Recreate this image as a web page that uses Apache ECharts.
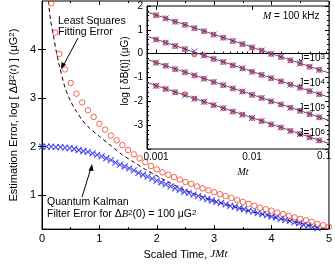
<!DOCTYPE html>
<html><head><meta charset="utf-8">
<script src="https://cdn.jsdelivr.net/npm/echarts@6/dist/echarts.min.js"></script>
<style>html,body{margin:0;padding:0;background:#fff}#c{width:335px;height:265px}</style>
</head><body><div id="c"></div>
<script>
// ---- main plot data ----
const lsX = [0.16,0.23,0.3,0.4,0.5,0.6,0.7,0.8,0.9,1.0,1.1,1.2,1.3,1.4,1.5,1.6,1.7,1.8,1.9,2.0,2.1,2.2,2.3,2.4,2.5,2.6,2.7,2.8,2.9,3.0,3.1,3.2,3.3,3.4,3.5,3.6,3.7,3.8,3.9,4.0,4.1,4.2,4.3,4.4,4.5,4.6,4.7,4.8,4.9,5.0];
const lsY = [4.95,4.35,3.91,3.59,3.31,3.09,2.91,2.75,2.61,2.47,2.35,2.23,2.13,2.03,1.93,1.84,1.76,1.68,1.60,1.53,1.47,1.42,1.37,1.32,1.27,1.23,1.18,1.14,1.10,1.06,1.02,0.98,0.94,0.90,0.86,0.82,0.78,0.74,0.71,0.68,0.64,0.61,0.57,0.54,0.51,0.48,0.45,0.41,0.38,0.35];
const qkfX = [0,0.08,0.16,0.24,0.32,0.40,0.48,0.56,0.64,0.72,0.80,0.88,0.96,1.04,1.12,1.20,1.28,1.36,1.44,1.52,1.60,1.68,1.76,1.84,1.92,2.00,2.08,2.16,2.24,2.32,2.40,2.48,2.56,2.64,2.72,2.80,2.88,2.96,3.04,3.12,3.20,3.28,3.36,3.44,3.52,3.60,3.68,3.76,3.84,3.92,4.00,4.08,4.16,4.24,4.32,4.40,4.48,4.56,4.64,4.72,4.80,4.88];
const qkfY = [2.00,2.00,2.00,1.99,1.99,1.98,1.97,1.95,1.93,1.91,1.89,1.86,1.83,1.80,1.76,1.72,1.67,1.63,1.59,1.55,1.51,1.46,1.42,1.38,1.34,1.30,1.26,1.22,1.18,1.14,1.11,1.07,1.04,1.01,0.98,0.95,0.92,0.89,0.86,0.84,0.81,0.78,0.76,0.73,0.71,0.68,0.66,0.63,0.61,0.59,0.56,0.54,0.51,0.49,0.47,0.44,0.42,0.39,0.37,0.34,0.32,0.29];
const trueX = [0.11,0.15,0.2,0.25,0.3,0.4,0.5,0.6,0.7,0.8,1.0,1.2,1.4,1.6,1.8,2.0,2.2,2.5,3.0,3.5,4.0,4.5,5.0];
const trueY = [5.0,4.6,4.28,3.95,3.68,3.22,2.93,2.72,2.55,2.41,2.21,2.02,1.83,1.68,1.53,1.40,1.27,1.10,0.88,0.71,0.56,0.42,0.28];
const mainXTicks = [0,1,2,3,4,5];
const mainYTicks = [1,2,3,4];

// ---- inset data ----
const insetXMin = 0.000805, insetXMax = 0.0634;
const insetX = [0.001,0.00126,0.00158,0.002,0.00251,0.00316,0.00398,0.00501,0.00631,0.00794,0.01,0.0126,0.0158,0.02,0.0251,0.0316,0.0398,0.0501];
const insetLineX = [insetXMin, insetXMax];
const insetLineJ3 = [1.75,-0.81];
const insetLineJ4 = [0.73,-1.83];
const insetLineJ5 = [-0.24,-2.80];
const insetLineJ6 = [-1.21,-3.77];
const redJ3 = [1.61,1.48,1.34,1.21,1.07,0.94,0.80,0.67,0.53,0.40,0.26,0.13,-0.01,-0.14,-0.28,-0.41,-0.55,-0.68];
const blueJ3 = [1.61,1.48,1.34,1.21,1.07,0.94,0.80,0.67,0.53,0.40,0.26,0.13,-0.01,-0.14,-0.28,-0.41,-0.55,-0.68];
const redJ4 = [0.59,0.46,0.32,0.19,-0.03,-0.08,-0.22,-0.35,-0.49,-0.62,-0.76,-0.89,-1.03,-1.16,-1.30,-1.43,-1.57,-1.70];
const blueJ4 = [0.59,0.46,0.32,0.19,0.10,-0.08,-0.22,-0.35,-0.49,-0.62,-0.76,-0.89,-1.03,-1.16,-1.30,-1.43,-1.57,-1.70];
const redJ5 = [-0.38,-0.51,-0.65,-0.78,-0.92,-1.05,-1.19,-1.32,-1.46,-1.59,-1.73,-1.86,-2.00,-2.13,-2.27,-2.40,-2.54,-2.67];
const blueJ5 = [-0.38,-0.51,-0.65,-0.78,-0.90,-1.05,-1.19,-1.32,-1.46,-1.59,-1.73,-1.86,-2.00,-2.13,-2.27,-2.40,-2.54,-2.67];
const redJ6 = [-1.35,-1.48,-1.62,-1.70,-1.89,-2.02,-2.16,-2.29,-2.43,-2.56,-2.70,-2.83,-2.97,-3.10,-3.24,-3.37,-3.51,-3.64];
const blueJ6 = [-1.35,-1.48,-1.62,-1.75,-1.89,-2.02,-2.16,-2.29,-2.43,-2.56,-2.70,-2.83,-2.97,-3.10,-3.24,-3.37,-3.51,-3.64];
const insetYTicks = [2,1,0,-1,-2,-3];
const insetXTicks = [0.001,0.01];
const insetXMinorTicks = [0.002,0.003,0.004,0.005,0.006,0.007,0.008,0.009,0.02,0.03,0.04,0.05,0.06];
const jLabels = ['3','4','5','6'];

const FONT = 'Liberation Sans';
const RED = '#e8452c', BLUE = '#2828e8';
const zip = (xs, ys) => xs.map((x,i)=>[x, ys[i]]);
const xPath = 'path://M0,0L10,10M10,0L0,10';

const chart = echarts.init(document.getElementById('c'), null, {renderer:'canvas'});
const txt = {fontFamily: FONT, color:'#000'};

const redSets = [redJ3, redJ4, redJ5, redJ6];
const blueSets = [blueJ3, blueJ4, blueJ5, blueJ6];
const lineSets = [insetLineJ3, insetLineJ4, insetLineJ5, insetLineJ6];

const series = [
  {type:'line', xAxisIndex:0, yAxisIndex:0, data: zip(trueX,trueY), symbol:'none', smooth:0.3,
   lineStyle:{color:'#000', width:1, type:[4,3]}, z:1, silent:true, clip:true},
  {type:'scatter', xAxisIndex:0, yAxisIndex:0, data: zip(qkfX,qkfY), symbol:xPath, symbolSize:6,
   itemStyle:{color:'rgba(0,0,0,0)', borderColor:BLUE, borderWidth:1.2}, z:3, clip:true},
  {type:'scatter', xAxisIndex:0, yAxisIndex:0, data: zip(lsX,lsY), symbol:'circle', symbolSize:5.5,
   itemStyle:{color:'rgba(255,255,255,0)', borderColor:RED, borderWidth:1}, z:4, clip:true},
];
lineSets.forEach(ls => series.push({type:'line', xAxisIndex:2, yAxisIndex:2, data: zip(insetLineX, ls), symbol:'none',
  lineStyle:{color:'#555', width:1}, z:10, silent:true}));
redSets.forEach(rs => series.push({type:'scatter', xAxisIndex:2, yAxisIndex:2, data: zip(insetX, rs), symbol:'circle', symbolSize:5,
  itemStyle:{color:'rgba(200,40,40,0.6)', borderColor:RED, borderWidth:1}, z:11}));
blueSets.forEach(bs => series.push({type:'scatter', xAxisIndex:2, yAxisIndex:2, data: zip(insetX, bs), symbol:xPath, symbolSize:6,
  itemStyle:{color:'rgba(0,0,0,0)', borderColor:BLUE, borderWidth:1}, z:12}));

const option = {
  animation:false,
  backgroundColor:'#fff',
  textStyle:{fontFamily:FONT},
  grid:[
    {left:36, right:2, top:1, bottom:29, show:true, borderColor:'#000', borderWidth:1, backgroundColor:'#fff', z:0},
    {left:147, top:6, width:182, height:143, show:true, borderColor:'#000', borderWidth:1, backgroundColor:'#fff', z:5}
  ],
  xAxis:[
    {gridIndex:0, type:'value', min:0, max:5, interval:1,
     axisLine:{show:true, lineStyle:{color:'#000'}}, splitLine:{show:false},
     axisTick:{show:true, inside:true, length:4, lineStyle:{color:'#000'}},
     minorTick:{show:true, splitNumber:2, length:2, lineStyle:{color:'#000'}},
     axisLabel:{...txt, fontSize:11, margin:4, customValues: mainXTicks},
     name:'{n|Scaled Time, }{i|JMt}', nameLocation:'middle', nameGap:19,
     nameTextStyle:{rich:{n:{...txt,fontSize:11}, i:{...txt,fontSize:11,fontStyle:'italic',fontFamily:'Liberation Serif'}}}},
    {gridIndex:0, type:'value', min:0, max:5, interval:1, position:'top',
     axisLine:{show:false}, splitLine:{show:false}, axisLabel:{show:false},
     axisTick:{show:true, inside:true, length:4, lineStyle:{color:'#000'}},
     minorTick:{show:true, splitNumber:2, length:2, lineStyle:{color:'#000'}}},
    {gridIndex:1, type:'log', min:insetXMin, max:insetXMax, logBase:10, z:6,
     axisLine:{show:true, lineStyle:{color:'#000'}}, splitLine:{show:false},
     axisTick:{show:true, inside:true, length:4, lineStyle:{color:'#000'}, customValues: insetXTicks},
     axisLabel:{...txt, fontSize:10, margin:3, customValues: insetXTicks, formatter: v => String(v)},
     name:'Mt', nameLocation:'middle', nameGap:16,
     nameTextStyle:{...txt, fontSize:10, fontStyle:'italic', fontFamily:'Liberation Serif', padding:[0,0,0,10]}},
    {gridIndex:1, type:'log', min:insetXMin, max:insetXMax, logBase:10, z:6, position:'bottom',
     axisLine:{show:false}, splitLine:{show:false}, axisLabel:{show:false},
     axisTick:{show:true, inside:true, length:2, lineStyle:{color:'#000'}, customValues: insetXMinorTicks}},
    {gridIndex:1, type:'log', min:insetXMin, max:insetXMax, logBase:10, z:6, position:'top',
     axisLine:{show:false}, splitLine:{show:false}, axisLabel:{show:false},
     axisTick:{show:true, inside:true, length:4, lineStyle:{color:'#000'}, customValues: insetXTicks}}
  ],
  yAxis:[
    {gridIndex:0, type:'value', min:0.3, max:5,
     axisLine:{show:true, lineStyle:{color:'#000'}}, splitLine:{show:false},
     axisTick:{show:true, inside:true, length:4, lineStyle:{color:'#000'}, customValues: mainYTicks},
     axisLabel:{...txt, fontSize:11, margin:6, customValues: mainYTicks},
     name:'{n|Estimation Error, log [ Δ}{i|B}{s|2}{n|(}{i|t}{n|) ] (μG}{s|2}{n|)}',
     nameLocation:'middle', nameGap:21, nameRotate:90,
     nameTextStyle:{rich:{n:{...txt,fontSize:11}, i:{...txt,fontSize:11,fontStyle:'italic',fontFamily:'Liberation Serif'}, s:{...txt,fontSize:8, verticalAlign:'top', lineHeight:11}}}},
    {gridIndex:0, type:'value', min:0.3, max:5, position:'right',
     axisLine:{show:false}, splitLine:{show:false}, axisLabel:{show:false},
     axisTick:{show:true, inside:true, length:4, lineStyle:{color:'#000'}, customValues: mainYTicks}},
    {gridIndex:1, type:'value', min:-4, max:2, interval:1, z:6,
     axisLine:{show:true, lineStyle:{color:'#000'}}, splitLine:{show:false},
     axisTick:{show:true, inside:true, length:4, lineStyle:{color:'#000'}},
     minorTick:{show:true, splitNumber:5, length:2, lineStyle:{color:'#000'}},
     axisLabel:{...txt, fontSize:10, margin:4, customValues: insetYTicks}},
    {gridIndex:1, type:'value', min:-4, max:2, interval:1, z:6, position:'right',
     axisLine:{show:false}, splitLine:{show:false}, axisLabel:{show:false},
     axisTick:{show:true, inside:true, length:4, lineStyle:{color:'#000'}},
     minorTick:{show:true, splitNumber:5, length:2, lineStyle:{color:'#000'}}}
  ],
  graphic:[
    {type:'text', x:58, y:16, z:20, style:{text:'Least Squares', font:'10.5px "Liberation Sans"', fill:'#000'}},
    {type:'text', x:58, y:27, z:20, style:{text:'Fitting Error', font:'10.5px "Liberation Sans"', fill:'#000'}},
    {type:'line', z:20, shape:{x1:78, y1:38, x2:63, y2:66}, style:{stroke:'#000', lineWidth:1}},
    {type:'polygon', z:20, shape:{points:[[61,69],[61.5,62],[66,64.5]]}, style:{fill:'#000'}},
    {type:'text', x:47, y:197, z:20, style:{text:'Quantum Kalman', font:'10.5px "Liberation Sans"', fill:'#000'}},
    {type:'text', x:47, y:209, z:20, style:{
      text:'{n|Filter Error for Δ}{i|B}{s|2}{n|(0) = 100 μG}{s|2}',
      rich:{n:{fontFamily:FONT,fontSize:10.5,fill:'#000'}, i:{fontFamily:'Liberation Serif',fontStyle:'italic',fontSize:10.5,fill:'#000'}, s:{fontFamily:FONT,fontSize:8,fill:'#000',verticalAlign:'top'}}}},
    {type:'line', z:20, shape:{x1:82, y1:197, x2:91, y2:168}, style:{stroke:'#000', lineWidth:1}},
    {type:'polygon', z:20, shape:{points:[[92,164],[88.5,170.5],[93.5,171]]}, style:{fill:'#000'}},
    {type:'text', x:125, y:71, rotation:Math.PI/2, z:20, style:{
      text:'{n|log [ δ}{n|B(t)] (μG)}', align:'center', verticalAlign:'middle',
      rich:{n:{fontFamily:FONT,fontSize:10,fill:'#000'}}}},
    {type:'text', x:263, y:11, z:20, style:{text:'{i|M}{n| = 100 kHz}',
      rich:{n:{fontFamily:FONT,fontSize:10,fill:'#000'}, i:{fontFamily:'Liberation Serif',fontStyle:'italic',fontSize:10,fill:'#000'}}}},
    {type:'text', x:324, y:156, z:20, style:{text:'0.1', align:'center', verticalAlign:'middle', font:'10px "Liberation Sans"', fill:'#000'}},
  ].concat(jLabels.map((j,k)=>({type:'text', x:325, y:58+k*25, z:20, style:{
      text:'{n|J=10}{s|'+j+'}', align:'right', verticalAlign:'middle',
      rich:{n:{fontFamily:FONT,fontSize:10,fill:'#000'}, s:{fontFamily:FONT,fontSize:8,fill:'#000',verticalAlign:'top'}}}}))),
  series
};
chart.setOption(option);
</script></body></html>
